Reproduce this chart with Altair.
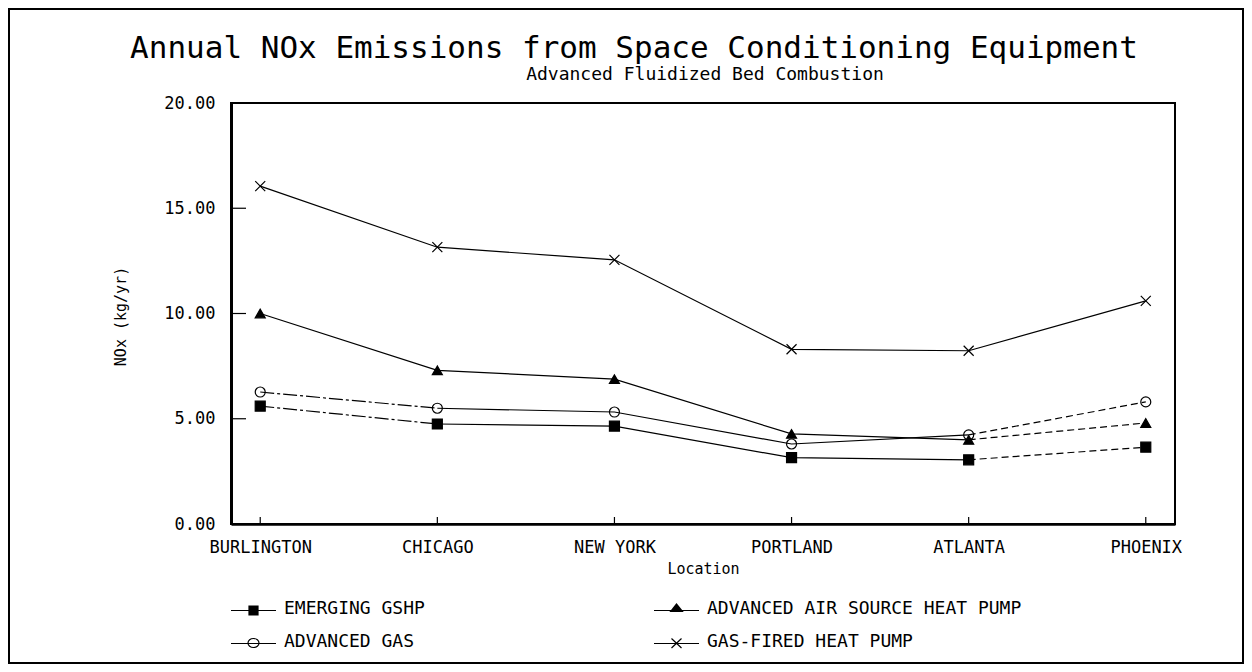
import altair as alt
import pandas as pd

# ---------------- data ----------------
CITIES = ["BURLINGTON", "CHICAGO", "NEW YORK", "PORTLAND", "ATLANTA", "PHOENIX"]
SERIES = ["EMERGING GSHP", "ADVANCED AIR SOURCE HEAT PUMP", "ADVANCED GAS", "GAS-FIRED HEAT PUMP"]
EMERGING_GSHP = [5.60, 4.75, 4.65, 3.15, 3.05, 3.65]
ADV_AIR_SOURCE_HP = [10.00, 7.30, 6.88, 4.28, 4.00, 4.80]
ADVANCED_GAS = [6.27, 5.50, 5.32, 3.80, 4.23, 5.80]
GAS_FIRED_HP = [16.05, 13.15, 12.55, 8.30, 8.23, 10.60]
Y_TICKS = [0, 5, 10, 15, 20]
TITLE = "Annual NOx Emissions from Space Conditioning Equipment"
SUBTITLE = "Advanced Fluidized Bed Combustion"

rows = []
for s, vals in zip(SERIES, [EMERGING_GSHP, ADV_AIR_SOURCE_HP, ADVANCED_GAS, GAS_FIRED_HP]):
    for i, (c, v) in enumerate(zip(CITIES, vals)):
        rows.append({"city": c, "idx": i, "series": s, "value": v})
df = pd.DataFrame(rows)

FONT = "DejaVu Sans Mono"
W, H = 944, 421

x_scale = alt.Scale(type="point", domain=CITIES, padding=0.165)
y_scale = alt.Scale(domain=[0, 20], nice=False, zero=True)

x_axis = alt.Axis(title="Location", labelAngle=0, ticks=False, domain=True,
                  domainWidth=2.5, domainColor="black", labelPadding=15,
                  titlePadding=6, grid=False, labelFontSize=17)
y_axis = alt.Axis(title="NOx (kg/yr)", values=Y_TICKS, format=".2f", ticks=False,
                  domain=True, domainWidth=3, domainColor="black", grid=False,
                  labelPadding=16, labelFontSize=17,
                  titleX=-111, titleY=213, titleAngle=270, titleAlign="center",
                  titleBaseline="middle")

x_enc = alt.X("city:N", scale=x_scale, sort=CITIES, axis=x_axis)
y_enc = alt.Y("value:Q", scale=y_scale, axis=y_axis)

base = alt.Chart(df)

S0, S1, S2, S3 = SERIES
dashdot = base.mark_line(color="black", strokeWidth=1.2, strokeDash=[14, 3, 3, 3]).encode(
    x=x_enc, y=y_enc, detail="series:N", order="idx:Q"
).transform_filter(f"datum.idx <= 1 && (datum.series == '{S0}' || datum.series == '{S2}')")

solid = base.mark_line(color="black", strokeWidth=1.2).encode(
    x=x_enc, y=y_enc, detail="series:N", order="idx:Q"
).transform_filter(
    f"(datum.idx >= 1 || (datum.series != '{S0}' && datum.series != '{S2}'))"
    f" && (datum.idx <= 4 || datum.series == '{S3}')"
)

dashed = base.mark_line(color="black", strokeWidth=1.2, strokeDash=[7, 4]).encode(
    x=x_enc, y=y_enc, detail="series:N", order="idx:Q"
).transform_filter(f"datum.idx >= 4 && datum.series != '{S3}'")

MARKERS = ["square", "triangle-up", "circle", "M-1,-1L1,1M1,-1L-1,1"]
FILLS = ["black", "black", "transparent", "transparent"]

points = base.mark_point(color="black", strokeWidth=1.2, opacity=1, size=100).encode(
    x=x_enc, y=y_enc,
    shape=alt.Shape("series:N", scale=alt.Scale(domain=SERIES, range=MARKERS), legend=None),
    fill=alt.Fill("series:N", scale=alt.Scale(domain=SERIES, range=FILLS), legend=None),
)


# legend glyphs: a 45px line stub with the marker in the middle (units of 10px)
def _hatch_square(x0, x1, y0, y1):
    p = f"M{x0},{y0}H{x1}V{y1}H{x0}Z"
    y = y0
    while y <= y1 + 1e-9:
        p += f"M{x0},{y:.2f}H{x1}"
        y += 0.1
    return p


def _hatch_triangle(cx, top, base_y, half):
    p = f"M{cx - half},{base_y}L{cx},{top}L{cx + half},{base_y}Z"
    y = top
    while y <= base_y + 1e-9:
        hw = half * (y - top) / (base_y - top)
        p += f"M{cx - hw:.3f},{y:.2f}H{cx + hw:.3f}"
        y += 0.1
    return p


LINE = "M-1,0.15H3.5"
LEGEND_SYMBOLS = [
    LINE + _hatch_square(0.8, 1.7, -0.3, 0.6),
    LINE + _hatch_triangle(1.25, -0.5, 0.25, 0.6),
    LINE + "M0.7,0.1A0.55,0.45,0,1,0,1.8,0.1A0.55,0.45,0,1,0,0.7,0.1",
    LINE + "M0.75,-0.35L1.75,0.6M1.75,-0.35L0.75,0.6",
]
leg = alt.Legend(title=None, orient="none", legendX=-1, legendY=495, columns=2,
                 direction="horizontal",
                 symbolSize=400, symbolStrokeWidth=1.2, symbolStrokeColor="black",
                 symbolFillColor="transparent", symbolOpacity=1,
                 labelOffset=32, columnPadding=226, rowPadding=13, labelLimit=600,
                 labelFont=FONT, labelFontSize=18, labelColor="black")
legend_layer = base.mark_point(color="black", filled=False, strokeWidth=1.2, opacity=1).encode(
    x=x_enc, y=y_enc,
    shape=alt.Shape("series:N", scale=alt.Scale(domain=SERIES, range=LEGEND_SYMBOLS), legend=leg, title=None),
).transform_filter("false")

ytick_df = pd.DataFrame({"value": Y_TICKS[1:-1]})
yticks = alt.Chart(ytick_df).mark_rule(color="black", strokeWidth=1.2).encode(
    y=y_enc, x=alt.value(0), x2=alt.value(15))

xtick_df = pd.DataFrame({"city": CITIES})
xticks = alt.Chart(xtick_df).mark_rule(color="black", strokeWidth=1.2).encode(
    x=x_enc, y=alt.value(H), y2=alt.value(H - 7))

frame = alt.Chart(pd.DataFrame({"a": [0]})).mark_rect(
    fillOpacity=0, stroke="black", strokeWidth=2).encode(
    x=alt.value(-222), x2=alt.value(1012), y=alt.value(-94), y2=alt.value(560))

title_txt = alt.Chart(pd.DataFrame({"t": [TITLE]})).mark_text(
    font=FONT, fontSize=31, align="center", baseline="middle", color="black").encode(
    text="t:N", x=alt.value(403), y=alt.value(-54))

sub = alt.Chart(pd.DataFrame({"t": [SUBTITLE]})).mark_text(
    font=FONT, fontSize=18, align="center", baseline="middle", color="black").encode(
    text="t:N", x=alt.value(W / 2 + 2), y=alt.value(-28))

chart = alt.layer(frame, yticks, xticks, dashdot, solid, dashed, points, legend_layer, title_txt, sub).resolve_scale(
    shape="independent"
).resolve_legend(
    shape="independent"
).properties(
    width=W, height=H,
    padding={"left": 223, "top": 95, "right": 69, "bottom": 140},
    autosize=alt.AutoSizeParams(type="none"),
).configure(
    background="white"
).configure_view(
    stroke="black", strokeWidth=2
).configure_axis(
    labelFont=FONT, titleFont=FONT, labelFontSize=17, titleFontSize=15,
    labelColor="black", titleColor="black", titleFontWeight="normal"
)

chart.save("out.html", embed_options={"renderer": "svg", "actions": False})
